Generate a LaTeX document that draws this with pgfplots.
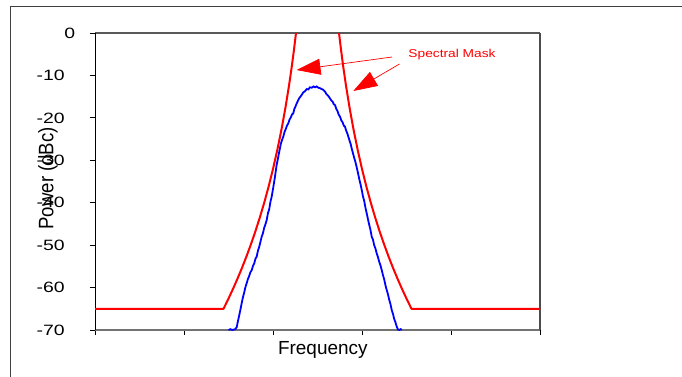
\documentclass[border=0pt]{standalone}
\usepackage{pgfplots}
\pgfplotsset{compat=1.18}
\usepackage{fontspec}
\setmainfont{Liberation Sans}
\newfontfamily\tickfont[FakeStretch=1.3]{Liberation Sans}
\newfontfamily\maskfont[FakeStretch=1.2]{Liberation Sans}
\newfontfamily\powfont[FakeStretch=0.89]{Liberation Sans}
\usetikzlibrary{arrows.meta}
\begin{document}
\begin{tikzpicture}
\useasboundingbox (0bp,0bp) rectangle (682bp,377bp);
\draw[line width=1.6bp, black!75] (10.5bp,-1bp) -- (10.5bp,370.5bp) -- (683bp,370.5bp);
\begin{axis}[
  at={(95bp,47bp)}, anchor=south west,
  scale only axis, width=445bp, height=297bp,
  xmin=0, xmax=5, ymin=-70, ymax=0,
  clip=false,
  axis line style={draw=none},
  tick pos=left,
  xtick={0,1,2,3,4,5}, xticklabels={},
  ytick={-70,-60,-50,-40,-30,-20,-10,0},
  yticklabels={-70,-60,-50,-40,-30,-20,-10,0\kern-11bp},
  tick align=outside, major tick length=5bp,
  tick style={black, line width=0.8bp},
  yticklabel style={anchor=east, inner sep=0pt, xshift=-25bp, font=\tickfont\fontsize{15}{15}\selectfont},
]
\draw[black!65, line width=1.3bp] (rel axis cs:0,1) -- (rel axis cs:1,1);
\draw[black!55, line width=1.2bp] (rel axis cs:0,0) -- (rel axis cs:1,0);
\draw[black!70, line width=2.3bp] (rel axis cs:1,0) -- (rel axis cs:1,1);
\draw[black, line width=1bp] (rel axis cs:0,0) -- (rel axis cs:0,1);
% spectral mask
\addplot[red, line width=2bp, mark=none, line join=round] coordinates {
(0,-65) (1.444,-65) (1.500,-62.60) (1.550,-60.34) (1.600,-57.96) (1.650,-55.44)
(1.700,-52.77) (1.750,-49.92) (1.800,-46.88) (1.850,-43.61) (1.900,-40.09)
(1.950,-36.25) (2.000,-32.05) (2.050,-27.41) (2.100,-22.22) (2.140,-17.57)
(2.180,-12.39) (2.210,-8.05) (2.235,-4.07) (2.2584,0)
};
\addplot[red, line width=2bp, mark=none, line join=round] coordinates {
(2.7416,0) (2.765,-4.07) (2.790,-8.05) (2.820,-12.39) (2.860,-17.57) (2.900,-22.22)
(2.950,-27.41) (3.000,-32.05) (3.050,-36.25) (3.100,-40.09) (3.150,-43.61)
(3.200,-46.88) (3.250,-49.92) (3.300,-52.77) (3.350,-55.44) (3.400,-57.96)
(3.450,-60.34) (3.500,-62.60) (3.556,-65) (5,-65)
};
% measured spectrum
\addplot[blue, line width=1.8bp, mark=none] coordinates {
(1.500,-70.0) (1.520,-69.8) (1.540,-70.0) (1.560,-69.9) (1.575,-69.8) (1.592,-69.4)
(1.605,-68.0) (1.620,-66.6) (1.635,-65.1) (1.648,-63.7) (1.662,-62.3) (1.676,-61.2)
(1.690,-59.9) (1.704,-59.0) (1.718,-58.0) (1.732,-57.3) (1.746,-56.4) (1.761,-55.9)
(1.775,-54.9) (1.789,-54.3) (1.803,-53.2) (1.817,-52.7) (1.831,-51.3) (1.845,-50.4)
(1.859,-49.2) (1.873,-48.0) (1.887,-47.2) (1.901,-45.9) (1.915,-45.1) (1.929,-44.1)
(1.943,-42.5) (1.957,-41.6) (1.971,-39.8) (1.985,-38.6) (2.003,-36.4) (2.022,-33.9)
(2.040,-31.2) (2.060,-29.1) (2.074,-27.6) (2.088,-26.1) (2.102,-25.2) (2.116,-24.4)
(2.130,-23.3) (2.144,-22.6) (2.158,-21.8) (2.172,-21.3) (2.186,-20.4) (2.200,-19.9)
(2.214,-19.2) (2.228,-18.9) (2.240,-17.9) (2.253,-17.3) (2.266,-16.6) (2.280,-16.0)
(2.294,-15.4) (2.308,-15.0) (2.322,-14.6) (2.340,-14.0) (2.360,-13.7) (2.380,-13.2)
(2.397,-13.3) (2.415,-12.8) (2.435,-12.9) (2.455,-12.6) (2.472,-12.8) (2.490,-12.6)
(2.510,-12.9) (2.528,-13.0) (2.545,-13.2) (2.565,-13.4) (2.584,-13.8) (2.600,-14.4)
(2.620,-14.8) (2.640,-15.4) (2.655,-15.9) (2.670,-16.2) (2.684,-16.8) (2.697,-17.0)
(2.711,-17.9) (2.725,-18.4) (2.739,-19.3) (2.753,-19.7) (2.767,-20.6) (2.781,-21.0)
(2.795,-21.8) (2.809,-22.1) (2.822,-23.0) (2.834,-23.6) (2.846,-24.4) (2.859,-25.3)
(2.872,-26.1) (2.884,-27.2) (2.898,-28.3) (2.912,-29.4) (2.926,-30.4) (2.940,-31.6)
(2.954,-32.9) (2.969,-34.4) (2.983,-35.6) (2.997,-37.0) (3.011,-38.5) (3.025,-39.6)
(3.039,-41.2) (3.053,-42.5) (3.067,-43.9) (3.081,-45.2) (3.095,-46.4) (3.109,-48.0)
(3.123,-48.7) (3.137,-50.0) (3.151,-50.8) (3.165,-51.9) (3.179,-52.8) (3.193,-53.9)
(3.208,-54.8) (3.222,-55.9) (3.236,-57.1) (3.250,-58.1) (3.264,-59.5) (3.278,-60.6)
(3.292,-61.6) (3.306,-62.9) (3.320,-63.9) (3.334,-65.3) (3.348,-66.2) (3.362,-67.4)
(3.376,-68.2) (3.390,-69.2) (3.405,-69.9) (3.420,-70.0) (3.435,-69.8) (3.446,-70.0)
};
% annotation
\draw[red, line width=0.7bp, -{Triangle[length=24bp,width=16bp]}] (axis cs:3.337,-5.66) -- (axis cs:2.264,-8.72);
\draw[red, line width=0.7bp, -{Triangle[length=24bp,width=16bp]}] (axis cs:3.421,-7.31) -- (axis cs:2.902,-13.67);
\node[anchor=base west, red, inner sep=0pt, font=\maskfont\fontsize{11.5}{11.5}\selectfont] at (axis cs:3.520,-5.77) {Spectral Mask};
\end{axis}
\node[anchor=base, inner sep=0pt, font=\fontsize{19}{19}\selectfont] at (322.8bp,22.7bp) {Frequency};
\node[anchor=base, rotate=90, inner sep=0pt, font=\powfont\fontsize{21}{21}\selectfont] at (53.3bp,198.7bp) {Power (dBc)};
\end{tikzpicture}
\end{document}
